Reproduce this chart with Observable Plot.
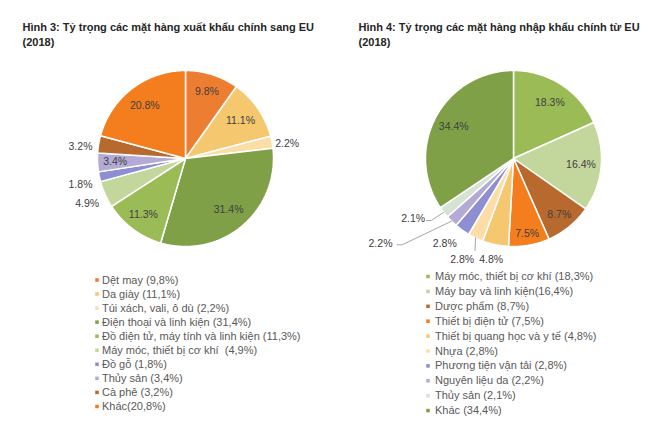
<!DOCTYPE html>
<html><head><meta charset="utf-8">
<script src="https://cdn.jsdelivr.net/npm/d3@7"></script>
<script src="https://cdn.jsdelivr.net/npm/@observablehq/plot@0.6"></script>
<style>body{margin:0;background:#fff} svg{display:block}</style>
</head><body><div id="chart"></div>
<script>
// ---------- data ----------
const exportTitle = ["Hình 3: Tỷ trọng các mặt hàng xuất khẩu chính sang EU", "(2018)"];
const importTitle = ["Hình 4: Tỷ trọng các mặt hàng nhập khẩu chính từ EU", "(2018)"];

const exportCategories = ["Dệt may (9,8%)", "Da giày (11,1%)", "Túi xách, vali, ô dù (2,2%)", "Điện thoại và linh kiện (31,4%)", "Đồ điện tử, máy tính và linh kiện (11,3%)", "Máy móc, thiết bị cơ khí  (4,9%)", "Đồ gỗ (1,8%)", "Thủy sản (3,4%)", "Cà phê (3,2%)", "Khác(20,8%)"];
const exportValues = [9.8, 11.1, 2.2, 31.4, 11.3, 4.9, 1.8, 3.4, 3.2, 20.8];
const exportColors = ["#ED7D31", "#F5C76F", "#FCDDA8", "#7FA046", "#9BBB57", "#C3D79C", "#8E8ED2", "#B4AAD6", "#B86A2E", "#F47E1E"];

const importCategories = ["Máy móc, thiết bị cơ khí (18,3%)", "Máy bay và linh kiện(16,4%)", "Dược phẩm (8,7%)", "Thiết bị điện tử (7,5%)", "Thiết bị quang học và y tế (4,8%)", "Nhựa (2,8%)", "Phương tiện vận tải (2,8%)", "Nguyên liệu da (2,2%)", "Thủy sản (2,1%)", "Khác (34,4%)"];
const importValues = [18.3, 16.4, 8.7, 7.5, 4.8, 2.8, 2.8, 2.2, 2.1, 34.4];
const importColors = ["#9BBB57", "#C3D79C", "#B86A2E", "#F47E1E", "#F5C76F", "#FCDDA8", "#8E8ED2", "#B4AAD6", "#D6E3D3", "#7FA046"];

// ---------- layout ----------
const W = 650, H = 438;
const pies = [
  {
    key: "exp", cx: 185, cy: 158, r: 88,
    values: exportValues, colors: exportColors, cats: exportCategories, title: exportTitle,
    labelR: [0.8, 0.76, null, 0.76, 0.8, null, null, 0.8, null, 0.76],
    outside: {2: [101.7, -14.7], 5: [-98.3, 44.7], 6: [-105, 26], 8: [-105, -12.3]},
    leaders: {},
    legend: {mx: 96.5, tx: 101.5, y0: 279.5, dy: 14.05},
    titlePos: {x: 22, y0: 26.5, dy: 15}
  },
  {
    key: "imp", cx: 513, cy: 158, r: 88,
    values: importValues, colors: importColors, cats: importCategories, title: importTitle,
    labelR: [0.76, 0.77, 0.82, 0.87, null, null, null, null, null, 0.77],
    outside: {4: [-22.3, 101.3], 5: [-51.3, 101.3], 6: [-68.7, 84.7], 7: [-133, 84.7], 8: [-100.3, 60.3]},
    leaders: {5: [[-38.5, 92]], 7: [[-111.3, 86.3], [-116.3, 86.3]], 8: [[-82.3, 62], [-87, 62]]},
    legend: {mx: 427.5, tx: 434.5, y0: 276, dy: 14.9},
    titlePos: {x: 358, y0: 26.5, dy: 15}
  }
];

const slicePts = [], labels = [], leaderPts = [], legendRows = [], titles = [];
const fmt = v => v.toFixed(1) + "%";
for (const p of pies) {
  const arcs = d3.pie().sort(null).value(d => d)(p.values);
  arcs.forEach((a, i) => {
    const id = p.key + i;
    slicePts.push({id, x: p.cx, y: p.cy, fill: p.colors[i]});
    const n = Math.max(2, Math.ceil((a.endAngle - a.startAngle) / 0.01) + 1);
    for (let k = 0; k < n; k++) {
      const t = a.startAngle + (a.endAngle - a.startAngle) * k / (n - 1);
      slicePts.push({id, x: p.cx + p.r * Math.sin(t), y: p.cy - p.r * Math.cos(t), fill: p.colors[i]});
    }
    const mid = (a.startAngle + a.endAngle) / 2;
    let lx, ly;
    if (p.outside[i]) {
      lx = p.cx + p.outside[i][0]; ly = p.cy + p.outside[i][1];
    } else {
      const rr = p.r * p.labelR[i];
      lx = p.cx + rr * Math.sin(mid); ly = p.cy - rr * Math.cos(mid);
    }
    labels.push({x: lx, y: ly, text: fmt(p.values[i])});
    if (p.leaders[i]) {
      const lid = "L" + id;
      leaderPts.push({id: lid, x: p.cx + p.r * Math.sin(mid), y: p.cy - p.r * Math.cos(mid)});
      for (const q of p.leaders[i]) leaderPts.push({id: lid, x: p.cx + q[0], y: p.cy + q[1]});
    }
    legendRows.push({mx: p.legend.mx, tx: p.legend.tx, y: p.legend.y0 + i * p.legend.dy, text: p.cats[i], color: p.colors[i]});
  });
  p.title.forEach((t, j) => titles.push({x: p.titlePos.x, y: p.titlePos.y0 + j * p.titlePos.dy, text: t}));
}

const chart = Plot.plot({
  width: W, height: H, margin: 0,
  x: {domain: [0, W], range: [0, W], axis: null},
  y: {domain: [0, H], range: [0, H], axis: null},
  color: {type: "identity"},
  style: {fontFamily: "'Liberation Sans', Arial, sans-serif", background: "white"},
  marks: [
    Plot.line(slicePts, {x: "x", y: "y", z: "id", fill: "fill", stroke: "white", strokeWidth: 1.5, curve: "linear-closed", strokeLinejoin: "miter"}),
    Plot.line(leaderPts, {x: "x", y: "y", z: "id", stroke: "#A6A6A6", strokeWidth: 1}),
    Plot.text(labels, {x: "x", y: "y", text: "text", fill: "#404040", fontSize: 10.5, textAnchor: "middle", lineAnchor: "middle"}),
    Plot.dot(legendRows, {x: "mx", y: "y", symbol: "square", r: 2, fill: "color", stroke: null}),
    Plot.text(legendRows, {x: "tx", y: "y", text: "text", fill: "#595959", fontSize: 11, textAnchor: "start", lineAnchor: "middle"}),
    Plot.text(titles, {x: "x", y: "y", text: "text", fill: "#262626", fontSize: 11, fontWeight: "bold", textAnchor: "start", lineAnchor: "middle"})
  ]
});
document.getElementById("chart").appendChild(chart);
</script>
</body></html>
